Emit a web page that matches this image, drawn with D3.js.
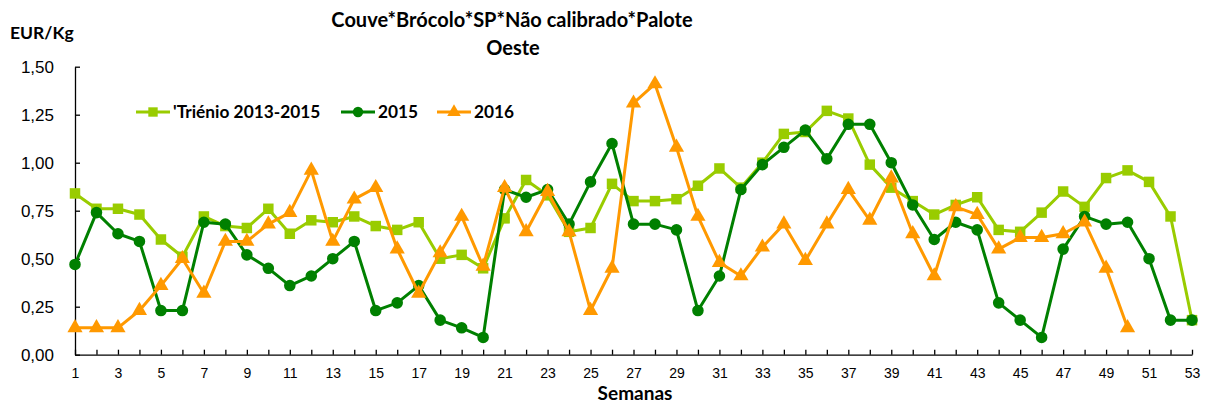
<!DOCTYPE html>
<html>
<head>
<meta charset="utf-8">
<script src="https://cdn.jsdelivr.net/npm/d3@7"></script>
<style>
  body { margin: 0; background: #fff; }
  svg { font-family: Lato, "Open Sans", sans-serif; }
</style>
</head>
<body>
<div id="chart"></div>
<script>
// weeks on the x axis
const weeks = d3.range(1, 54)

// price per week, EUR/Kg
const trienio = [0.84, 0.76, 0.76, 0.73, 0.60, 0.51, 0.72, 0.67, 0.66, 0.76,
                 0.63, 0.70, 0.69, 0.72, 0.67, 0.65, 0.69, 0.50, 0.52, 0.45,
                 0.71, 0.91, 0.83, 0.64, 0.66, 0.89, 0.80, 0.80, 0.81, 0.88,
                 0.97, 0.87, 1.00, 1.15, 1.16, 1.27, 1.23, 0.99, 0.87, 0.80,
                 0.73, 0.78, 0.82, 0.65, 0.64, 0.74, 0.85, 0.77, 0.92, 0.96,
                 0.90, 0.72, 0.18]
const y2015 = [0.47, 0.74, 0.63, 0.59, 0.23, 0.23, 0.69, 0.68, 0.52, 0.45,
               0.36, 0.41, 0.50, 0.59, 0.23, 0.27, 0.36, 0.18, 0.14, 0.09,
               0.86, 0.82, 0.86, 0.68, 0.90, 1.10, 0.68, 0.68, 0.65, 0.23,
               0.41, 0.86, 0.99, 1.08, 1.17, 1.02, 1.20, 1.20, 1.00, 0.78,
               0.60, 0.69, 0.65, 0.27, 0.18, 0.09, 0.55, 0.72, 0.68, 0.69,
               0.50, 0.18, 0.18]
const y2016 = [0.14, 0.14, 0.14, 0.23, 0.36, 0.50, 0.32, 0.59, 0.59, 0.68,
               0.74, 0.96, 0.59, 0.81, 0.87, 0.55, 0.32, 0.53, 0.72, 0.46,
               0.87, 0.64, 0.85, 0.64, 0.23, 0.45, 1.31, 1.41, 1.08, 0.72,
               0.48, 0.41, 0.56, 0.68, 0.49, 0.68, 0.86, 0.70, 0.92, 0.63,
               0.41, 0.77, 0.73, 0.55, 0.61, 0.61, 0.63, 0.69, 0.45, 0.14]

const yTicks = [0, 0.25, 0.5, 0.75, 1, 1.25, 1.5]

const series = [
  { name: "'Triénio 2013-2015", values: trienio, color: '#99cc00', symbol: d3.symbolSquare, size: 110 },
  { name: '2015', values: y2015, color: '#008000', symbol: d3.symbolCircle, size: 105 },
  { name: '2016', values: y2016, color: '#ff9900', symbol: d3.symbolTriangle, size: 100 }
]

const width = 1206
const height = 403

const x = d3.scaleLinear().domain([1, 53]).range([75, 1192])
const y = d3.scaleLinear().domain([0, 1.5]).range([354.7, 66.7])

const svg = d3.select('#chart').append('svg')
  .attr('width', width).attr('height', height)

const fmt = v => d3.format('.2f')(v).replace('.', ',')

// axes, ticks point into the plot
svg.append('g')
  .attr('transform', 'translate(0,' + y(0) + ')')
  .call(d3.axisBottom(x).tickValues(weeks).tickSize(-5).tickSizeOuter(0).tickPadding(13)
    .tickFormat(d => d % 2 === 1 ? d : ''))
  .call(g => g.selectAll('text').attr('font-size', 14).attr('fill', '#000'))
  .call(g => g.selectAll('line, path').attr('stroke', '#000').attr('stroke-width', 1.3))

svg.append('g')
  .attr('transform', 'translate(' + x(1) + ',0)')
  .call(d3.axisLeft(y).tickValues(yTicks).tickSize(-5).tickSizeOuter(0).tickPadding(21).tickFormat(fmt))
  .call(g => g.selectAll('text').attr('font-size', 17).attr('fill', '#000'))
  .call(g => g.selectAll('line, path').attr('stroke', '#000').attr('stroke-width', 1.3))

// lines and markers
const line = d3.line().x((d, i) => x(weeks[i])).y(d => y(d))

series.forEach(s => {
  svg.append('path')
    .datum(s.values)
    .attr('d', line)
    .attr('fill', 'none')
    .attr('stroke', s.color)
    .attr('stroke-width', 3)
    .attr('stroke-linejoin', 'round')
  svg.append('g').selectAll('path')
    .data(s.values)
    .join('path')
    .attr('transform', (d, i) => 'translate(' + x(weeks[i]) + ',' + y(d) + ')')
    .attr('d', d3.symbol(s.symbol, s.size))
    .attr('fill', s.color)
})

// legend
const legendX = [136, 341, 437]
series.forEach((s, i) => {
  const g = svg.append('g').attr('transform', 'translate(' + legendX[i] + ',112)')
  g.append('line').attr('x1', 0).attr('x2', 34).attr('stroke', s.color).attr('stroke-width', 3)
  g.append('path').attr('transform', 'translate(17,0)').attr('d', d3.symbol(s.symbol, s.size * 0.8)).attr('fill', s.color)
  g.append('text').attr('x', 37).attr('dy', '0.35em')
    .attr('font-size', 17.3).attr('font-weight', 'bold').text(s.name)
})

// titles
svg.append('text').attr('x', 512).attr('y', 27).attr('text-anchor', 'middle')
  .attr('font-size', 20).attr('font-weight', 'bold').text('Couve*Brócolo*SP*Não calibrado*Palote')
svg.append('text').attr('x', 513).attr('y', 55).attr('text-anchor', 'middle')
  .attr('font-size', 20).attr('font-weight', 'bold').text('Oeste')
svg.append('text').attr('x', 10).attr('y', 39)
  .attr('font-size', 17.5).attr('font-weight', 'bold').text('EUR/Kg')
svg.append('text').attr('x', 635).attr('y', 400).attr('text-anchor', 'middle')
  .attr('font-size', 19).attr('font-weight', 'bold').text('Semanas')
</script>
</body>
</html>
